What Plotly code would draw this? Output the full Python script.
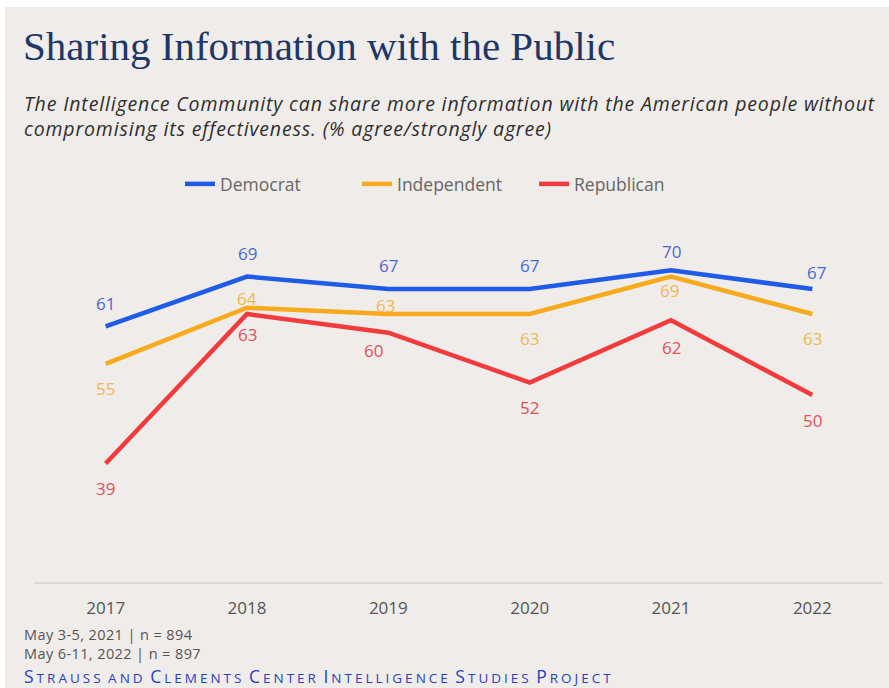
import plotly.graph_objects as go

# ---- data ----
years = ["2017", "2018", "2019", "2020", "2021", "2022"]
democrat = [61, 69, 67, 67, 70, 67]
independent = [55, 64, 63, 63, 69, 63]
republican = [39, 63, 60, 52, 62, 50]

title_text = "Sharing Information with the Public"
subtitle_lines = [
    "The Intelligence Community can share more information with the American people without",
    "compromising its effectiveness. (% agree/strongly agree)",
]
notes = ["May 3-5, 2021 | n = 894", "May 6-11, 2022 | n = 897"]
source_words = ["STRAUSS", "AND", "CLEMENTS", "CENTER", "INTELLIGENCE", "STUDIES", "PROJECT"]

# ---- style ----
W, H = 889, 688
ML, MR, MT, MB = 35, 6, 208, 106
PW, PH = W - ML - MR, H - MT - MB
BG = "#efecea"
FONT = "Open Sans"

series = [
    dict(name="Democrat", y=democrat, line="#1f5be6", label="#4a68d2",
         shifts=[(0, 23), (0, 23), (0, 24), (0, 24), (0, 19), (4, 17)]),
    dict(name="Independent", y=independent, line="#f8a91c", label="#f0b84e",
         shifts=[(0, -25), (0, 9), (-3, 8), (0, -25), (-2, -14), (0, -25)]),
    dict(name="Republican", y=republican, line="#f23b3c", label="#e2505a",
         shifts=[(0, -25), (0, -21), (-15, -18), (0, -25), (0, -27), (0, -25)]),
]


def px(x):
    return (x - ML) / PW


def py(y):
    return (H - MB - y) / PH


fig = go.Figure()
annotations = []
for s in series:
    fig.add_trace(go.Scatter(
        x=years, y=s["y"], name=s["name"], mode="lines",
        line=dict(color=s["line"], width=4.5, shape="linear"),
        hoverinfo="x+y+name",
    ))
    for i, (yv, (dx, dy)) in enumerate(zip(s["y"], s["shifts"])):
        annotations.append(dict(
            x=i, y=yv, xref="x", yref="y", text=str(yv), showarrow=False,
            xshift=dx, yshift=dy, font=dict(family=FONT, size=17, color=s["label"]),
            xanchor="center", yanchor="middle",
        ))

# title, subtitle, notes
annotations.append(dict(
    x=px(21), y=py(46), xref="paper", yref="paper", text=title_text, showarrow=False,
    xanchor="left", yanchor="middle",
    font=dict(family="Liberation Serif", size=41, color="#1d3767"),
))
annotations.append(dict(
    x=px(22), y=py(88), xref="paper", yref="paper",
    text="<br>".join("<i><span style='letter-spacing:0.85px'>" + l + "</span></i>" for l in subtitle_lines),
    showarrow=False, xanchor="left", yanchor="top", align="left",
    font=dict(family=FONT, size=19.5, color="#2f2f2f"),
))
annotations.append(dict(
    x=px(22), y=py(623), xref="paper", yref="paper",
    text="<br>".join("<span style='letter-spacing:0.4px'>" + l + "</span>" for l in notes),
    showarrow=False, xanchor="left", yanchor="top", align="left",
    font=dict(family=FONT, size=14.5, color="#555555"),
))


def small_caps(word):
    big = word[0] if word != "AND" else ""
    rest = word[len(big):]
    out = ""
    if big:
        out += "<span style='letter-spacing:3px'>" + big + "</span>"
    out += "<span style='font-size:13.5px;letter-spacing:3px'>" + rest + "</span>"
    return out


sc = " ".join(small_caps(w) for w in source_words)
annotations.append(dict(
    x=px(22), y=py(676), xref="paper", yref="paper", text=sc,
    showarrow=False, xanchor="left", yanchor="middle",
    font=dict(family=FONT, size=17.5, color="#2b3fbf"),
))

shapes = [dict(
    type="rect", xref="paper", yref="paper", x0=px(6), x1=px(W + 5), y0=py(H + 5), y1=py(7),
    fillcolor=BG, line=dict(width=0), layer="below",
), dict(
    type="line", xref="paper", yref="paper", x0=px(6), x1=px(6), y0=py(H + 5), y1=py(7),
    line=dict(color="#dcdcdc", width=1), layer="below",
)]

fig.update_layout(
    width=W, height=H,
    margin=dict(l=ML, r=MR, t=MT, b=MB, pad=0),
    paper_bgcolor="#ffffff", plot_bgcolor="rgba(0,0,0,0)",
    showlegend=True,
    legend=dict(
        orientation="h", x=px(180), y=py(184), xanchor="left", yanchor="middle",
        font=dict(family=FONT, size=17.5, color="#666666"),
        bgcolor="rgba(0,0,0,0)", entrywidth=132, entrywidthmode="pixels",
        itemwidth=30,
    ),
    xaxis=dict(
        type="category", range=[-0.5, 5.5], showgrid=False, zeroline=False,
        showline=True, linecolor="#dddad6", linewidth=1.5,
        ticks="outside", ticklen=10, tickcolor="rgba(0,0,0,0)",
        tickfont=dict(family=FONT, size=17, color="#555555"),
        fixedrange=True,
    ),
    yaxis=dict(
        range=[20, 80], showgrid=False, zeroline=False, showline=False,
        showticklabels=False, ticks="", fixedrange=True,
    ),
    annotations=annotations,
    shapes=shapes,
    hovermode="closest",
)

fig.write_html("out.html")
